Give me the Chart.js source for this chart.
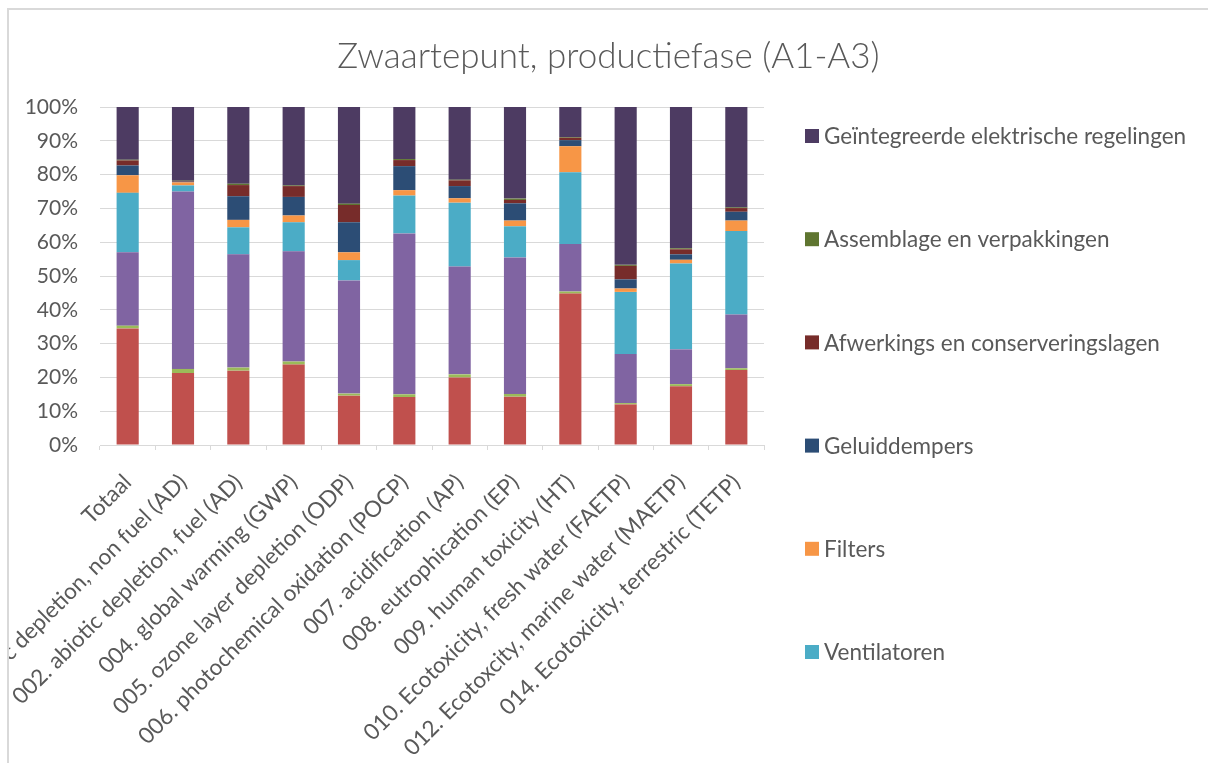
<!DOCTYPE html>
<html>
<head>
<meta charset="utf-8">
<title>Zwaartepunt, productiefase (A1-A3)</title>
<script src="https://cdn.jsdelivr.net/npm/chart.js@4.4.1/dist/chart.umd.min.js"></script>
<style>
    html, body { margin: 0; padding: 0; background: #fff; overflow: hidden; }
    /* light grey chart frame, only left and top edges are visible */
    #frame {
        position: absolute; left: 7px; top: 8px;
        width: 1199px; height: 753px;
        border-left: 2px solid #d9d9d9; border-top: 2px solid #d9d9d9;
    }
    #chart-wrap { position: absolute; left: 0; top: 0; width: 1199px; height: 753px; }
</style>
</head>
<body>
<div id="frame">
    <div id="chart-wrap"><canvas id="stackChart"></canvas></div>
</div>
<script>
// --- Data (percent share per impact category) ---
const categories = [
    'Totaal',
    '001. abiotic depletion, non fuel (AD)',
    '002. abiotic depletion, fuel (AD)',
    '004. global warming (GWP)',
    '005. ozone layer depletion (ODP)',
    '006. photochemical oxidation (POCP)',
    '007. acidification (AP)',
    '008. eutrophication (EP)',
    '009. human toxicity (HT)',
    '010. Ecotoxicity, fresh water (FAETP)',
    '012. Ecotoxcity, marine water (MAETP)',
    '014. Ecotoxicity, terrestric (TETP)'
];

// bottom three series are cut off from the legend in the original
const reeks1 = [34.5, 21.3, 22.0, 23.8, 14.6, 14.2, 20.0, 14.3, 44.8, 12.0, 17.4, 22.2];
const reeks2 = [0.8, 1.2, 0.9, 0.9, 0.6, 0.8, 0.9, 0.8, 0.6, 0.4, 0.6, 0.5];
const reeks3 = [21.7, 52.5, 33.5, 32.6, 33.5, 47.6, 31.9, 40.4, 14.1, 14.5, 10.3, 15.9];
const ventilatoren = [17.6, 1.8, 8.0, 8.6, 6.0, 11.2, 18.9, 9.2, 21.2, 18.4, 25.4, 24.7];
const filters = [5.2, 0.9, 2.2, 2.0, 2.3, 1.6, 1.3, 1.7, 7.7, 1.0, 1.1, 3.1];
const geluiddempers = [2.9, 0.2, 7.0, 5.5, 8.9, 7.1, 3.6, 5.1, 1.8, 2.7, 1.6, 2.6];
const afwerkingslagen = [1.5, 0.2, 3.3, 3.2, 5.1, 1.8, 1.7, 1.0, 0.7, 4.0, 1.5, 1.1];
const assemblage = [0.2, 0.1, 0.4, 0.2, 0.4, 0.3, 0.2, 0.4, 0.2, 0.3, 0.3, 0.2];
const regelingen = [15.6, 21.8, 22.7, 23.2, 28.6, 15.4, 21.5, 27.1, 8.9, 46.7, 41.8, 29.7];

const yTicks = [0, 10, 20, 30, 40, 50, 60, 70, 80, 90, 100];

// names shown in the (truncated) legend, top to bottom
const legendNames = [
    'Geïntegreerde elektrische regelingen',
    'Assemblage en verpakkingen',
    'Afwerkings en conserveringslagen',
    'Geluiddempers',
    'Filters',
    'Ventilatoren'
];

// --- Series setup (stack order bottom -> top) ---
const series = [
    { label: 'Reeks 1', data: reeks1, color: '#C0504D' },
    { label: 'Reeks 2', data: reeks2, color: '#9BBB59' },
    { label: 'Reeks 3', data: reeks3, color: '#8064A2' },
    { label: 'Ventilatoren', data: ventilatoren, color: '#4BACC6' },
    { label: 'Filters', data: filters, color: '#F79646' },
    { label: 'Geluiddempers', data: geluiddempers, color: '#2C4D75' },
    { label: 'Afwerkings en conserveringslagen', data: afwerkingslagen, color: '#772C2A' },
    { label: 'Assemblage en verpakkingen', data: assemblage, color: '#5F7530' },
    { label: 'Geïntegreerde elektrische regelingen', data: regelingen, color: '#4D3B62' }
];

const textColor = '#595959';
const gridColor = '#d9d9d9';

Chart.defaults.font.family = 'Lato, "Open Sans", sans-serif';
Chart.defaults.color = textColor;

// --- Side legend drawn on the canvas, Excel style (wide spacing) ---
const sideLegend = {
    id: 'sideLegend',
    afterDraw(chart) {
        const ctx = chart.ctx;
        ctx.save();
        ctx.font = '22.5px Lato, "Open Sans", sans-serif';
        ctx.textBaseline = 'middle';
        legendNames.forEach((name, k) => {
            const ds = chart.data.datasets.find(d => d.label === name);
            const y = 126 + k * 103.2;
            ctx.fillStyle = ds.backgroundColor;
            ctx.fillRect(796, y - 7, 14, 14);
            ctx.fillStyle = textColor;
            ctx.fillText(name, 815, y + 1);
        });
        ctx.restore();
    }
};

const ctx = document.getElementById('stackChart').getContext('2d');
new Chart(ctx, {
    type: 'bar',
    data: {
        labels: categories,
        datasets: series.map(s => ({
            label: s.label,
            data: s.data,
            backgroundColor: s.color,
            borderWidth: 0,
            barPercentage: 0.4,
            categoryPercentage: 1.0
        }))
    },
    options: {
        responsive: true,
        maintainAspectRatio: false,
        animation: false,
        layout: { padding: 0 },
        scales: {
            x: {
                stacked: true,
                grid: {
                    drawOnChartArea: false,
                    drawTicks: true,
                    tickLength: 5,
                    color: gridColor,
                    offset: true
                },
                border: { color: gridColor, width: 1 },
                ticks: {
                    autoSkip: false,
                    maxRotation: 45,
                    minRotation: 45,
                    padding: 19,
                    labelOffset: 0,
                    font: { size: 22.5 },
                    color: textColor
                },
                afterFit(scale) { scale.height = 318; }
            },
            y: {
                stacked: true,
                min: 0,
                max: 100,
                afterBuildTicks(scale) { scale.ticks = yTicks.map(v => ({ value: v })); },
                grid: { color: gridColor, lineWidth: 1, drawTicks: false },
                border: { display: false },
                ticks: {
                    padding: 22,
                    font: { size: 21 },
                    color: textColor,
                    callback: v => v + '%'
                },
                afterFit(scale) { scale.width = 91; }
            },
            // empty right-hand scale that reserves the room for the legend
            legendSpace: {
                type: 'linear',
                position: 'right',
                min: 0,
                max: 1,
                grid: { display: false },
                border: { display: false },
                ticks: { display: false },
                afterFit(scale) { scale.width = 444; }
            }
        },
        plugins: {
            title: {
                display: true,
                text: 'Zwaartepunt, productiefase (A1-A3)',
                color: textColor,
                font: { size: 35, weight: '300' },
                padding: { top: 26, bottom: 29 }
            },
            legend: { display: false },
            tooltip: { enabled: false }
        }
    },
    plugins: [sideLegend]
});
</script>
</body>
</html>
